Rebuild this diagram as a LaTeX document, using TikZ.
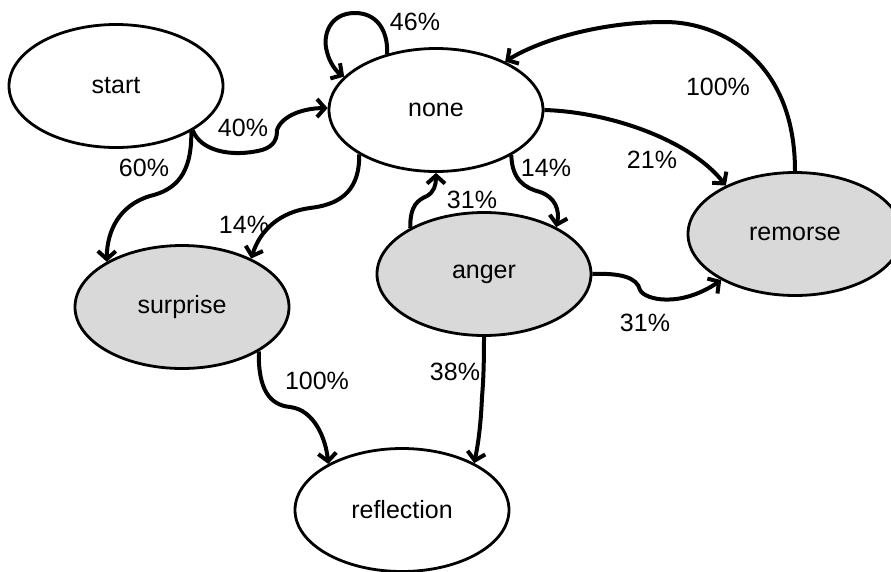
\documentclass[tikz,border=0pt]{standalone}
\usepackage{fontspec}
\setmainfont{Liberation Sans}
\usetikzlibrary{arrows.meta,shapes.geometric}
\definecolor{stategray}{RGB}{217,217,217}
\tikzset{
  state/.style={draw=black, ellipse, line width=2.8pt, minimum width=214pt, minimum height=123pt, inner sep=0pt, font=\fontsize{25}{30}\selectfont},
  hot/.style={state, fill=stategray},
  cold/.style={state, fill=white},
  edge/.style={line width=4pt, -{Straight Barb[length=8pt,width=18pt]}},
  lbl/.style={font=\fontsize{25}{30}\selectfont, inner sep=0pt}
}
\begin{document}
\begin{tikzpicture}[x=1pt,y=-1pt]
\useasboundingbox (0,0) rectangle (891,571);
\node[cold] (start) at (116,86) {start};
\node[cold] (none) at (436,110) {none};
\node[hot] (remorse) at (795,234) {remorse};
\node[hot] (anger) at (484,274) {anger};
\node[hot] (surprise) at (182,307) {surprise};
\node[cold] (reflection) at (402,510) {reflection};

% start -> none
\draw[edge] (start.-30) .. controls (200,150) and (230,158) .. (262,150) .. controls (275,146) and (277,138) .. (277,130) .. controls (282,115) and (305,108) .. (none.179);
% start -> surprise
\draw[edge] (start.-31) .. controls (192,175) and (175,190) .. (150,196) .. controls (120,205) and (107,230) .. (surprise.149);
% none loop
\draw[edge] (none.131) .. controls (388,28) and (375,13) .. (355,13) .. controls (330,13) and (322,35) .. (327,52) .. controls (330,64) and (337,72) .. (none.160);
% none -> surprise
\draw[edge] (none.210) .. controls (360,195) and (335,205) .. (310,208) .. controls (280,212) and (260,230) .. (surprise.35);
% none -> anger
\draw[edge] (none.-31) .. controls (512,180) and (525,188) .. (540,192) .. controls (555,197) and (560,210) .. (anger.33);
% anger -> none
\draw[edge] (anger.148) .. controls (410,205) and (418,200) .. (427,196) .. controls (434,192) and (436,185) .. (none.270);
% none -> remorse
\draw[edge] (none.0) .. controls (610,112) and (690,140) .. (remorse.145);
% remorse -> none
\draw[edge] (remorse.90) .. controls (795,60) and (720,22) .. (665,22) .. controls (600,22) and (540,40) .. (none.35);
% anger -> remorse
\draw[edge] (anger.0) .. controls (620,273) and (637,277) .. (640,290) .. controls (645,300) and (680,308) .. (remorse.212);
% anger -> reflection
\draw[edge] (anger.270) .. controls (484,370) and (483,385) .. (482,397) .. controls (481,420) and (479,440) .. (reflection.33);
% surprise -> reflection
\draw[edge] (surprise.-30) .. controls (258,390) and (270,405) .. (290,407) .. controls (315,410) and (326,440) .. (reflection.148);

\node[lbl] (l1) at (243,128) {40\%};
\node[lbl] (l2) at (144,168) {60\%};
\node[lbl] (l3) at (415,22) {46\%};
\node[lbl] (l4) at (244,225) {14\%};
\node[lbl] (l5) at (546,168) {14\%};
\node[lbl] (l6) at (472,200) {31\%};
\node[lbl] (l7) at (652,160) {21\%};
\node[lbl] (l8) at (718,87) {100\%};
\node[lbl] (l9) at (645,323) {31\%};
\node[lbl] (l10) at (455,372) {38\%};
\node[lbl] (l11) at (317,381) {100\%};
\end{tikzpicture}
\end{document}
